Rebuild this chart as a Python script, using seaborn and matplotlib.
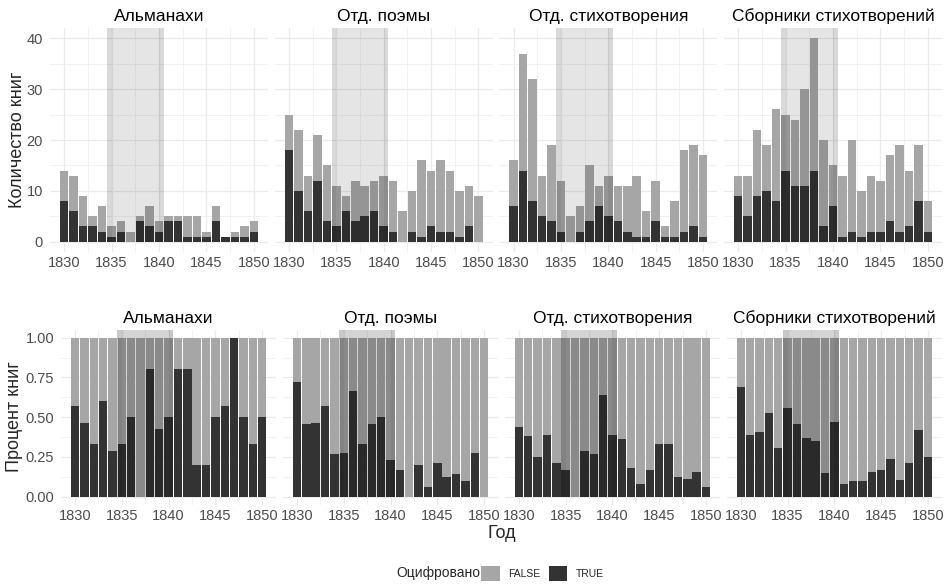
import matplotlib
matplotlib.use("Agg")
import matplotlib.pyplot as plt
import numpy as np
import pandas as pd
import seaborn as sns
from matplotlib.patches import Patch
from matplotlib.ticker import MultipleLocator, FixedLocator

# ---- data -------------------------------------------------------------
years = list(range(1830, 1851))
categories = ["Альманахи", "Отд. поэмы", "Отд. стихотворения", "Сборники стихотворений"]

almanacs_total = [14, 13, 9, 5, 7, 3, 4, 2, 5, 7, 4, 5, 5, 5, 5, 2, 7, 1, 2, 3, 4]
almanacs_digit = [8, 6, 3, 3, 2, 1, 2, 0, 4, 3, 2, 4, 4, 1, 1, 1, 4, 1, 1, 1, 2]
poems_total = [25, 22, 13, 21, 15, 11, 9, 12, 11, 12, 13, 12, 6, 10, 16, 14, 16, 14, 10, 11, 9]
poems_digit = [18, 10, 6, 12, 4, 3, 6, 4, 5, 6, 3, 2, 0, 2, 1, 3, 2, 2, 1, 3, 0]
verses_total = [16, 37, 32, 13, 19, 12, 5, 7, 15, 11, 13, 11, 11, 13, 6, 12, 3, 8, 18, 19, 17]
verses_digit = [7, 14, 8, 5, 4, 2, 0, 2, 4, 7, 5, 4, 2, 1, 1, 4, 1, 1, 2, 3, 1]
collections_total = [13, 13, 22, 19, 26, 25, 24, 30, 40, 20, 15, 13, 20, 10, 13, 12, 17, 19, 14, 19, 8]
collections_digit = [9, 5, 9, 10, 8, 14, 11, 11, 14, 3, 7, 1, 2, 1, 2, 2, 4, 2, 3, 8, 2]

digit_levels = ["FALSE", "TRUE"]
x_ticks = [1830, 1835, 1840, 1845, 1850]
count_ticks = [0, 10, 20, 30, 40]
share_ticks = [0.0, 0.25, 0.5, 0.75, 1.0]
share_tick_labels = ["0.00", "0.25", "0.50", "0.75", "1.00"]
period = (1834.5, 1840.5)

totals = [almanacs_total, poems_total, verses_total, collections_total]
digits = [almanacs_digit, poems_digit, verses_digit, collections_digit]

rows = []
for cat, tot, dig in zip(categories, totals, digits):
    for y, t, d in zip(years, tot, dig):
        rows.append({"cat": cat, "year": y, "digitized": "TRUE", "n": d})
        rows.append({"cat": cat, "year": y, "digitized": "FALSE", "n": t - d})
df = pd.DataFrame(rows)

# ---- style --------------------------------------------------------------
sns.set_theme(style="white")
plt.rcParams["font.family"] = ["Liberation Sans", "DejaVu Sans"]

LIGHT = "#a6a6a6"
DARK = "#333333"
GRID = "#ebebeb"
TICK_COLOR = "#4d4d4d"
palette = {"FALSE": LIGHT, "TRUE": DARK}

W, H = 947, 585
fig = plt.figure(figsize=(W / 100, H / 100), dpi=100)


def px_axes(x0, x1, ytop, ybot):
    return fig.add_axes([x0 / W, 1 - ybot / H, (x1 - x0) / W, (ybot - ytop) / H])


def style_axis(ax, show_y, minor_y):
    for s in ax.spines.values():
        s.set_visible(False)
    ax.set_xlim(1828.5, 1851.5)
    ax.xaxis.set_major_locator(FixedLocator(x_ticks))
    ax.xaxis.set_minor_locator(FixedLocator([1832.5, 1837.5, 1842.5, 1847.5]))
    ax.yaxis.set_minor_locator(MultipleLocator(minor_y))
    ax.grid(True, which="major", color=GRID, lw=0.9, zorder=0)
    ax.grid(True, which="minor", color=GRID, lw=0.45, zorder=0)
    ax.set_axisbelow(True)
    ax.tick_params(which="both", length=0, labelsize=10.5, colors=TICK_COLOR, pad=3)
    ax.tick_params(axis="y", pad=5)
    if not show_y:
        ax.tick_params(axis="y", labelleft=False)
    ax.set_xlabel("")
    ax.set_ylabel("")


def shade_period(ax, lo, hi, alpha):
    # highlighted years, from the zero line up to the top of the panel
    ymin = (0 - lo) / (hi - lo)
    ax.axvspan(*period, ymin=ymin, ymax=1, color="black", alpha=alpha, lw=0, zorder=5)
    ax.axvspan(period[0], period[0] + 0.5, ymin=ymin, ymax=1, color="black",
               alpha=0.05, lw=0, zorder=5)
    ax.axvspan(period[1] - 0.5, period[1], ymin=ymin, ymax=1, color="black",
               alpha=0.05, lw=0, zorder=5)


# panel geometry (pixels)
top_x = [(50, 268), (274.7, 492.7), (499.3, 717.3), (724, 942)]
bot_w = (942 - 61 - 3 * 6.67) / 4
bot_x = [(61 + i * (bot_w + 6.67), 61 + i * (bot_w + 6.67) + bot_w) for i in range(4)]

for i, cat in enumerate(categories):
    sub = df[df["cat"] == cat]

    # counts
    ax = px_axes(top_x[i][0], top_x[i][1], 28.1, 251.9)
    sns.histplot(data=sub, x="year", weights="n", hue="digitized", hue_order=digit_levels,
                 multiple="stack", discrete=True, shrink=0.9, palette=palette,
                 alpha=1, linewidth=0, legend=False, ax=ax)
    ax.set_ylim(-2, 42)
    ax.yaxis.set_major_locator(FixedLocator(count_ticks))
    style_axis(ax, i == 0, 5)
    shade_period(ax, -2, 42, 0.1)
    ax.set_title(cat, fontsize=12.5, pad=5, color="black")

    # shares
    ax2 = px_axes(bot_x[i][0], bot_x[i][1], 329.7, 504.6)
    sns.histplot(data=sub, x="year", weights="n", hue="digitized", hue_order=digit_levels,
                 multiple="fill", discrete=True, shrink=0.9, palette=palette,
                 alpha=1, linewidth=0, legend=False, ax=ax2)
    ax2.set_ylim(-0.05, 1.05)
    ax2.yaxis.set_major_locator(FixedLocator(share_ticks))
    if i == 0:
        ax2.set_yticklabels(share_tick_labels)
    style_axis(ax2, i == 0, 0.125)
    shade_period(ax2, -0.05, 1.05, 0.17)
    ax2.set_title(cat, fontsize=12.5, pad=5, color="black")

# axis titles
fig.text(18 / W, 1 - 140 / H, "Количество книг", rotation=90, ha="center", va="center",
         fontsize=13)
fig.text(15 / W, 1 - 417 / H, "Процент книг", rotation=90, ha="center", va="center",
         fontsize=13)
fig.text((61 + 942) / 2 / W, 1 - 534 / H, "Год", ha="center", va="center", fontsize=13)

# legend
fig.text(480 / W, 1 - 573.5 / H, "Оцифровано", ha="right", va="center", fontsize=10)
handles = [Patch(facecolor=palette[k], edgecolor="none") for k in digit_levels]
fig.legend(handles, digit_levels, loc="center left", bbox_to_anchor=(481 / W, 1 - 573.5 / H),
           ncol=2, frameon=False, fontsize=7.5, handlelength=1.8, handleheight=1.9,
           handletextpad=0.8, columnspacing=0.8, borderpad=0, borderaxespad=0)

fig.savefig("out.png", dpi=100)
